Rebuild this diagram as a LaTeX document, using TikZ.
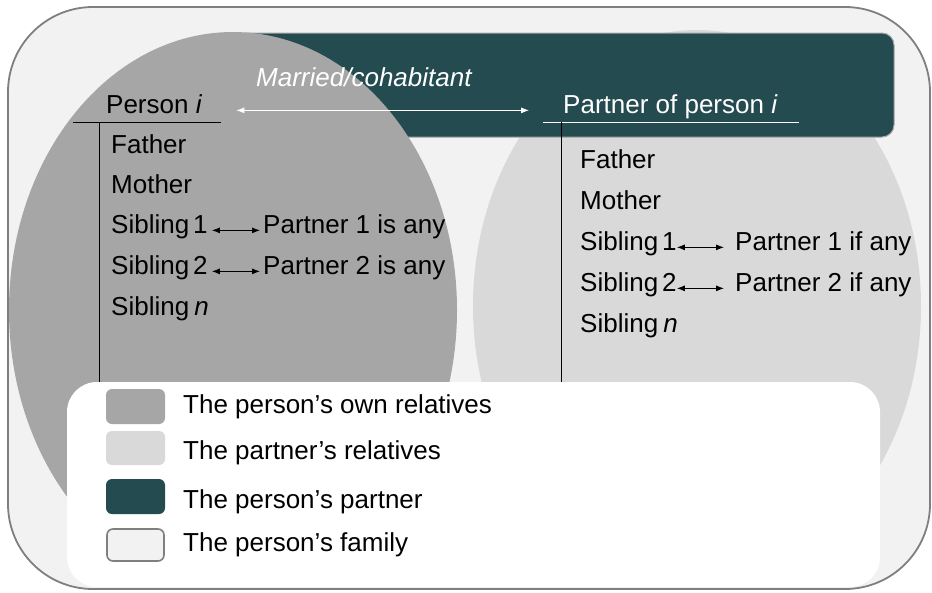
\documentclass[tikz,border=0pt]{standalone}
\usepackage{fontspec}
\setmainfont{Liberation Sans}
\usetikzlibrary{arrows.meta}
\definecolor{partnerteal}{HTML}{244B50}
\definecolor{owngray}{HTML}{A6A6A6}
\definecolor{partnergray}{HTML}{D9D9D9}
\definecolor{familyfill}{HTML}{F2F2F2}
\definecolor{bordergray}{HTML}{7F7F7F}
\newcommand{\sib}[1]{Sibling\hspace{4pt}#1}
\begin{document}
\begin{tikzpicture}[x=1pt,y=-1pt,
  every node/.style={inner sep=0pt, font=\fontsize{26}{31}\selectfont},
  lbl/.style={anchor=base west, text=black},
  wlbl/.style={anchor=base west, text=white},
  arr/.style={{Latex[length=8pt,width=6pt]}-{Latex[length=8pt,width=6pt]}, line width=0.8pt},
  swatch/.style={rounded corners=6pt},
  rule/.style={line width=0.8pt}
]
\fill[white] (0,0) rectangle (932,592);
\useasboundingbox (0,0) rectangle (932,592);
% outer family box
\draw[draw=bordergray, fill=familyfill, line width=1.8pt, rounded corners=85pt] (8,7) rectangle (930,589);
% partner's relatives
\fill[partnergray] (697,306) ellipse [x radius=224pt, y radius=276pt];
% partner band
\draw[draw=bordergray!70, fill=partnerteal, line width=1pt, rounded corners=12pt] (235,33) rectangle (894,137);
% own relatives
\begin{scope}
\clip (0,0) rectangle (932,560);
\fill[owngray] (233,310) ellipse [x radius=224pt, y radius=278pt];
\end{scope}
% legend box
\fill[white, rounded corners=30pt] (67,382) rectangle (880,587);

% header texts
\node[white, anchor=base west] (married) at (256,86) {\textit{Married/cohabitant}};
\node[lbl] (person) at (106,113) {Person \textit{i}};
\node[wlbl] (partner) at (563,113) {Partner of person \textit{i}};
\draw[white, arr, shorten <=34pt, shorten >=34pt] (person.mid east) -- (partner.mid west);

% rules
\coordinate (lr1) at (73,122);
\coordinate (lr2) at (221,122);
\coordinate (lv1) at (99,122);
\coordinate (lv2) at (99,382);
\coordinate (rr1) at (543,122);
\coordinate (rr2) at (799,122);
\coordinate (rv1) at (561,122);
\coordinate (rv2) at (561,382);
\draw[rule] (lr1) -- (lr2);
\draw[rule] (lv1) -- (lv2);
\draw[rule, white] (rr1) -- (rr2);
\draw[rule] (rv1) -- (rv2);

% left list
\node[lbl] (lf) at (111,153) {Father};
\node[lbl] (lm) at (111,193) {Mother};
\node[lbl] (ls1) at (111,233) {\sib{1}};
\node[lbl] (ls2) at (111,274) {\sib{2}};
\node[lbl] (lsn) at (111,315) {Sibling\hspace{5pt}\textit{n}};
\node[lbl] (lp1) at (263,233) {Partner 1 is any};
\node[lbl] (lp2) at (263,274) {Partner 2 is any};
\draw[arr, shorten <=4pt, shorten >=3pt] (ls1.mid east) -- (lp1.mid west);
\draw[arr, shorten <=4pt, shorten >=3pt] (ls2.mid east) -- (lp2.mid west);

% right list
\node[lbl] (rf) at (580,168) {Father};
\node[lbl] (rm) at (580,209) {Mother};
\node[lbl] (rs1) at (580,250) {\sib{1}};
\node[lbl] (rs2) at (580,291) {\sib{2}};
\node[lbl] (rsn) at (580,332) {Sibling\hspace{5pt}\textit{n}};
\node[lbl] (rp1) at (735,250) {Partner 1 if any};
\node[lbl] (rp2) at (735,291) {Partner 2 if any};
\draw[arr, shorten <=0pt, shorten >=11pt] (rs1.mid east) -- (rp1.mid west);
\draw[arr, shorten <=0pt, shorten >=11pt] (rs2.mid east) -- (rp2.mid west);

% legend
\fill[owngray, swatch] (106,389) rectangle (165,424);
\fill[partnergray, swatch] (106,431) rectangle (165,465);
\fill[partnerteal, swatch] (106,479) rectangle (165,514);
\draw[bordergray, fill=familyfill, line width=1.6pt, swatch] (107,529) rectangle (164,561);
\node[lbl] (k1) at (183,413) {The person’s own relatives};
\node[lbl] (k2) at (183,459) {The partner’s relatives};
\node[lbl] (k3) at (183,508) {The person’s partner};
\node[lbl] (k4) at (183,551) {The person’s family};
\end{tikzpicture}
\end{document}
